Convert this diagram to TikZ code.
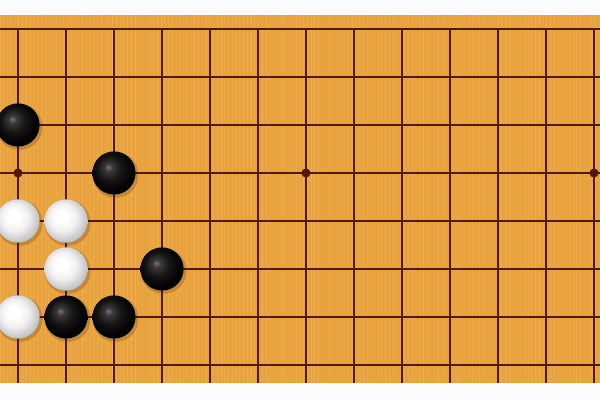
\documentclass[tikz,border=0pt]{standalone}
\usepackage{tikz}
\usetikzlibrary{positioning}

\definecolor{boardwood}{RGB}{232,163,62}
\definecolor{boardgrain}{RGB}{244,186,92}
\definecolor{boardline}{RGB}{82,24,16}
\definecolor{paper}{RGB}{250,252,253}

\pgfdeclareradialshading{whiteball}{\pgfqpoint{-6bp}{6bp}}{%
  color(0bp)=(white); color(7bp)=(white); color(16bp)=(black!6); color(24bp)=(black!19); color(31bp)=(black!30); color(50bp)=(black!40)}
\pgfdeclareradialshading{blackball}{\pgfqpoint{-7bp}{7bp}}{%
  color(0bp)=(black!55); color(5bp)=(black!78); color(14bp)=(black!92); color(25bp)=(black); color(50bp)=(black)}

\tikzset{
  gridline/.style={draw=boardline, line width=1.35pt},
  hoshi/.style={circle, fill=boardline, inner sep=0pt, minimum size=0.19cm},
  stone/.style={circle, inner sep=0pt, minimum size=0.9cm},
  blackstone/.style={stone, shading=blackball},
  whitestone/.style={stone, shading=whiteball},
  stoneshadow/.style={fill=black!70!brown, opacity=0.22}
}

\begin{document}
\begin{tikzpicture}
    \useasboundingbox (-0.375, 0.604) rectangle (12.125, -7.729);
    \fill [paper] (-0.375, 0.604) rectangle (12.125, -7.729);

    % board
    \fill [boardwood] (-0.375, 0.29) rectangle (12.125, -7.375);
    \pgfmathsetseed{7}
    \foreach \i in {0,...,160} {
      \pgfmathsetmacro{\xx}{-0.37 + 0.078*\i}
      \pgfmathsetmacro{\op}{0.15 + 0.35*rnd}
      \draw [boardgrain, line width=0.6pt, opacity=\op] (\xx, 0.29) -- (\xx, -7.375);
    }

    % grid
    \foreach \r in {0,...,7}
      \draw [gridline] (-0.375, -\r) -- (12.125, -\r);
    \foreach \c in {0,...,12}
      \draw [gridline] (\c, 0) -- (\c, -7.375);

    % star points
    \node [hoshi] (s1) at (0, -3) {};
    \node [hoshi] (s2) at (6, -3) {};
    \node [hoshi] (s3) at (12, -3) {};

    % stones: (column, row)
    \foreach \c/\r in {0/2, 2/3, 3/5, 1/6, 2/6, 0/4, 1/4, 1/5, 0/6}
      \fill [stoneshadow] (\c+0.03, -\r-0.04) circle (0.48);

    \node [blackstone] (b1) at (0, -2) {};
    \node [blackstone] (b2) at (2, -3) {};
    \node [blackstone] (b3) at (3, -5) {};
    \node [blackstone] (b4) at (1, -6) {};
    \node [blackstone] (b5) at (2, -6) {};

    \node [whitestone] (w1) at (0, -4) {};
    \node [whitestone] (w2) at (1, -4) {};
    \node [whitestone] (w3) at (1, -5) {};
    \node [whitestone] (w4) at (0, -6) {};
\end{tikzpicture}
\end{document}
